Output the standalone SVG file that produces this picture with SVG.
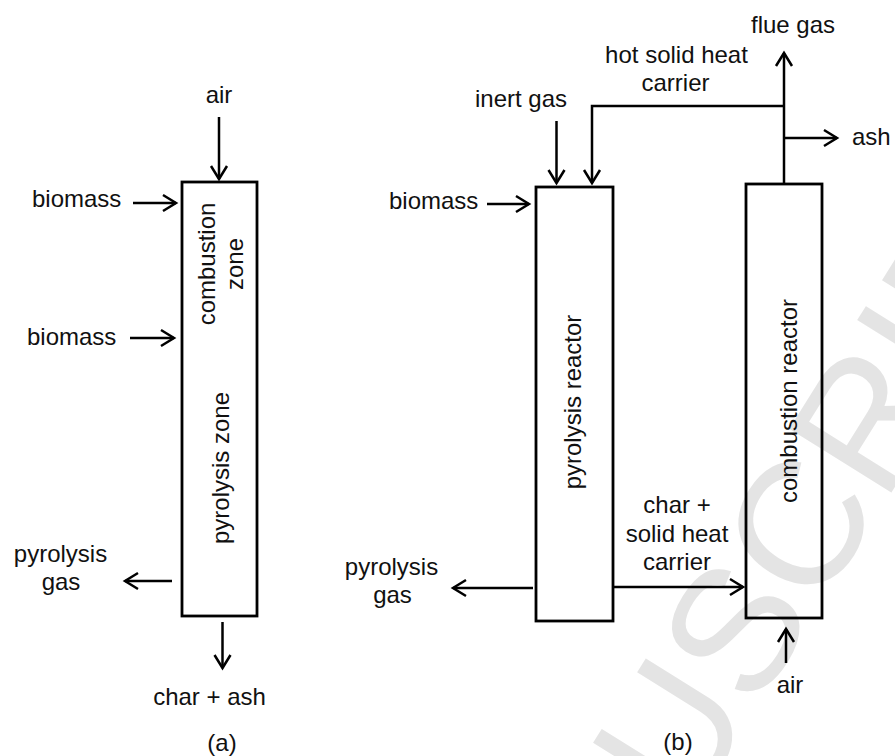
<svg xmlns="http://www.w3.org/2000/svg" width="895" height="756" viewBox="0 0 895 756">
<style>
.t{font-family:"Liberation Sans",Arial,sans-serif;font-size:24px;fill:#111}
.m{text-anchor:middle}
.box{fill:none;stroke:#000;stroke-width:2.8}
.ln{fill:none;stroke:#000;stroke-width:2.5}
.wm{font-family:"Liberation Sans",Arial,sans-serif;font-size:175px;fill:#e4e4e4}
</style>
<defs>
<marker id="ah" markerUnits="userSpaceOnUse" markerWidth="20" markerHeight="20" viewBox="-16 -10 18 20" refX="0" refY="0" orient="auto">
<path d="M-13,-8 L0,0 L-13,8" fill="none" stroke="#000" stroke-width="2.5" stroke-linejoin="miter"/>
</marker>
</defs>
<rect width="895" height="756" fill="#fff"/>
<g id="watermark">
<text class="wm" transform="translate(688,818) rotate(-58)" x="-389" y="0">MANUSCRIPT</text>
</g>
<g id="connectors">
<path class="ln" d="M219,117 V179" marker-end="url(#ah)"/>
<path class="ln" d="M133,203 H176" marker-end="url(#ah)"/>
<path class="ln" d="M130,338 H174" marker-end="url(#ah)"/>
<path class="ln" d="M172,581 H125" marker-end="url(#ah)"/>
<path class="ln" d="M222.5,622 V668" marker-end="url(#ah)"/>
<path class="ln" d="M556.5,121 V183" marker-end="url(#ah)"/>
<path class="ln" d="M784,106 H592 V183" marker-end="url(#ah)"/>
<path class="ln" d="M784,184 V53" marker-end="url(#ah)"/>
<path class="ln" d="M784,138 H837" marker-end="url(#ah)"/>
<path class="ln" d="M487,204 H529" marker-end="url(#ah)"/>
<path class="ln" d="M533,588 H453" marker-end="url(#ah)"/>
<path class="ln" d="M613,587 H743" marker-end="url(#ah)"/>
<path class="ln" d="M786,663 V629" marker-end="url(#ah)"/>
</g>
<g id="reactor-a">
<rect class="box" x="182" y="182" width="75" height="434"/>
<text class="t m" transform="translate(215,264) rotate(-90)"><tspan x="0" y="0">combustion</tspan><tspan x="0" y="28">zone</tspan></text>
<text class="t m" transform="translate(229,468) rotate(-90)" x="0" y="0">pyrolysis zone</text>
</g>
<g id="pyrolysis-reactor">
<rect class="box" x="536" y="187" width="77" height="434"/>
<text class="t m" transform="translate(581,402) rotate(-90)" x="0" y="0">pyrolysis reactor</text>
</g>
<g id="combustion-reactor">
<rect class="box" x="746" y="184" width="76" height="434"/>
<text class="t m" transform="translate(797,401) rotate(-90)" x="0" y="0">combustion reactor</text>
</g>
<g id="labels">
<text class="t m" x="219" y="103">air</text>
<text class="t" x="32" y="207">biomass</text>
<text class="t" x="27" y="345">biomass</text>
<text class="t m" x="60.5" y="562">pyrolysis</text>
<text class="t m" x="61" y="590">gas</text>
<text class="t m" x="209.5" y="705">char + ash</text>
<text class="t m" x="222" y="751">(a)</text>
<text class="t m" x="521" y="107">inert gas</text>
<text class="t m" x="676.5" y="63">hot solid heat</text>
<text class="t m" x="675.5" y="91">carrier</text>
<text class="t m" x="793" y="33">flue gas</text>
<text class="t" x="852" y="145">ash</text>
<text class="t" x="389" y="209">biomass</text>
<text class="t m" x="391.5" y="575">pyrolysis</text>
<text class="t m" x="392.5" y="603">gas</text>
<text class="t m" x="677" y="513">char +</text>
<text class="t m" x="677" y="542">solid heat</text>
<text class="t m" x="677" y="570">carrier</text>
<text class="t m" x="790" y="693">air</text>
<text class="t m" x="678" y="750">(b)</text>
</g>
</svg>
